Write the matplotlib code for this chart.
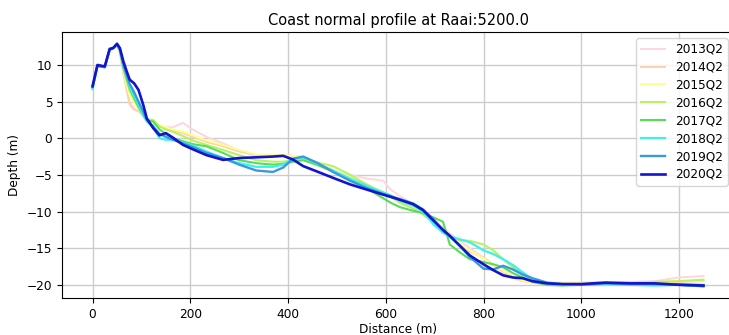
import matplotlib
matplotlib.use("Agg")
import matplotlib.pyplot as plt

distance = [0, 10, 25, 35, 42, 50, 56, 63, 70, 76,
            85, 94, 104, 111, 124, 137, 150, 164, 185, 205,
            233, 267, 300, 335, 369, 390, 410, 431, 458, 492,
            527, 561, 595, 610, 629, 656, 676, 697, 717, 731,
            752, 772, 800, 820, 840, 860, 880, 900, 930, 960,
            1000, 1050, 1100, 1150, 1200, 1250]

labels = ["2013Q2", "2014Q2", "2015Q2", "2016Q2", "2017Q2", "2018Q2", "2019Q2", "2020Q2"]

d2013 = [7.0, 9.9, 9.7, 12.1, 12.3, 12.7, 11.7, 8.9, 6.6, 4.5,
         3.9, 3.7, 3.0, 2.4, 1.8, 1.6, 1.5, 1.5, 2.1, 1.2,
         0.2, -0.7, -1.7, -2.4, -2.5, -2.3, -2.4, -2.7, -3.6, -4.6,
         -5.0, -5.5, -5.8, -7.0, -7.9, -9.0, -10.0, -11.0, -12.2, -13.0,
         -14.0, -15.0, -16.3, -17.3, -18.3, -19.0, -19.4, -19.6, -19.7, -19.7,
         -19.7, -19.6, -19.6, -19.5, -19.0, -18.8]
d2014 = [7.0, 9.9, 9.7, 12.1, 12.3, 12.7, 11.6, 8.9, 6.6, 4.8,
         4.0, 3.7, 3.3, 2.7, 1.9, 1.6, 1.4, 1.1, 0.7, 0.2,
         -0.5, -1.1, -1.8, -2.3, -2.4, -2.3, -2.4, -2.6, -3.5, -4.5,
         -5.4, -6.4, -7.4, -7.9, -8.6, -9.4, -10.3, -11.4, -12.6, -13.4,
         -14.5, -15.5, -16.3, -17.2, -18.2, -19.0, -19.5, -19.7, -19.8, -19.8,
         -19.8, -19.7, -19.7, -19.6, -19.6, -19.5]
d2015 = [7.0, 9.9, 9.7, 12.1, 12.3, 12.7, 11.8, 9.2, 7.2, 5.8,
         4.8, 4.0, 3.3, 2.7, 2.0, 1.8, 1.5, 1.2, 0.9, 0.4,
         -0.3, -0.9, -1.6, -2.2, -2.3, -2.3, -2.4, -2.5, -3.3, -4.3,
         -5.3, -6.3, -7.3, -7.8, -8.5, -9.3, -10.2, -11.3, -12.4, -13.2,
         -14.3, -15.3, -16.4, -17.3, -18.1, -18.9, -19.4, -19.7, -19.8, -19.8,
         -19.8, -19.7, -19.7, -19.6, -19.5, -19.4]
d2016 = [6.9, 9.9, 9.7, 12.1, 12.3, 12.7, 12.0, 9.5, 7.8, 6.5,
         5.3, 4.2, 3.2, 2.6, 2.5, 1.6, 1.2, 0.9, 0.3, -0.3,
         -0.9, -1.6, -2.3, -3.0, -3.2, -3.2, -3.0, -2.8, -3.3, -3.8,
         -5.0, -6.3, -7.5, -8.0, -8.8, -9.6, -10.4, -11.4, -12.6, -13.4,
         -13.9, -14.0, -14.5, -15.3, -16.5, -17.6, -18.6, -19.4, -19.8, -19.9,
         -19.9, -19.7, -19.7, -19.6, -19.5, -19.3]
d2017 = [6.9, 9.9, 9.7, 12.1, 12.3, 12.8, 12.0, 9.7, 8.1, 6.8,
         5.5, 4.3, 3.1, 2.4, 2.3, 1.2, 0.6, 0.0, -0.4, -0.8,
         -1.1, -2.0, -3.0, -3.4, -3.6, -3.5, -3.2, -3.0, -3.6, -4.5,
         -5.6, -6.8, -8.2, -8.8, -9.4, -9.9, -10.2, -10.8, -11.4, -14.5,
         -15.6, -16.5, -16.9, -17.2, -17.6, -18.4, -19.0, -19.6, -20.0, -20.1,
         -20.0, -19.8, -19.9, -19.9, -19.9, -20.0]
d2018 = [6.7, 9.8, 9.7, 12.0, 12.3, 12.7, 12.0, 9.8, 8.4, 7.0,
         5.8, 4.6, 3.2, 2.3, 1.5, 0.0, -0.2, -0.2, -0.6, -1.0,
         -1.8, -2.7, -3.4, -3.9, -3.9, -3.6, -2.8, -2.6, -3.4, -4.4,
         -5.5, -6.5, -7.4, -7.8, -8.5, -9.2, -10.0, -11.7, -12.9, -13.4,
         -13.8, -14.2, -15.3, -15.8, -16.5, -17.3, -18.3, -19.2, -19.8, -20.0,
         -20.0, -19.9, -20.0, -20.1, -20.0, -20.2]
d2019 = [7.0, 9.9, 9.7, 12.1, 12.3, 12.8, 12.1, 10.0, 8.6, 7.4,
         6.3, 5.0, 3.6, 2.5, 1.6, 0.6, 0.2, -0.2, -0.7, -1.2,
         -2.0, -2.7, -3.6, -4.4, -4.6, -4.0, -2.8, -2.5, -3.3, -4.6,
         -5.8, -6.8, -7.6, -7.9, -8.3, -8.9, -9.7, -11.0, -12.6, -13.4,
         -14.7, -16.2, -17.8, -17.9, -17.4, -17.9, -18.6, -19.1, -19.7, -19.9,
         -20.0, -19.8, -19.9, -19.9, -20.0, -20.2]
d2020 = [7.1, 10.0, 9.8, 12.2, 12.3, 12.9, 12.3, 10.5, 9.1, 8.0,
         7.5, 6.6, 4.5, 2.7, 1.4, 0.4, 0.7, 0.1, -0.9, -1.5,
         -2.3, -2.95, -2.7, -2.6, -2.5, -2.4, -2.9, -3.8, -4.5, -5.4,
         -6.3, -7.0, -7.7, -8.0, -8.4, -9.0, -9.8, -11.2, -12.5, -13.3,
         -14.7, -16.0, -17.2, -18.0, -18.7, -19.0, -19.1, -19.5, -19.8, -19.9,
         -19.9, -19.7, -19.8, -19.8, -20.0, -20.1]

series = [d2013, d2014, d2015, d2016, d2017, d2018, d2019, d2020]
colors = ["#ffd6dc", "#fbd2b0", "#ffff8c", "#b8f262", "#55dd55",
          "#3ef0ec", "#3a98dc", "#1414cc"]
widths = [1.4, 1.4, 1.4, 1.5, 1.5, 1.6, 1.7, 1.9]

plt.rcParams["font.size"] = 8.75

fig = plt.figure(figsize=(7.29, 3.35), dpi=100)
ax = fig.add_axes([62 / 729, 37 / 335, (734 - 62) / 729, (298 - 32) / 335])

for lab, vals, c, w in zip(labels, series, colors, widths):
    ax.plot(distance, vals, color=c, linewidth=w, label=lab)

ax.set_xlim(-62.5, 1312.5)
ax.set_ylim(-21.8, 14.5)
ax.set_xticks([0, 200, 400, 600, 800, 1000, 1200])
ax.set_yticks([-20, -15, -10, -5, 0, 5, 10])
ax.grid(True, color="#cccccc", linewidth=1.0)
ax.set_axisbelow(True)
ax.set_title("Coast normal profile at Raai:5200.0", fontsize=10.5, pad=5)
ax.set_xlabel("Distance (m)", labelpad=2)
ax.set_ylabel("Depth (m)")
ax.legend(loc="upper right", labelspacing=0.4)

fig.savefig("out.png", dpi=100)
